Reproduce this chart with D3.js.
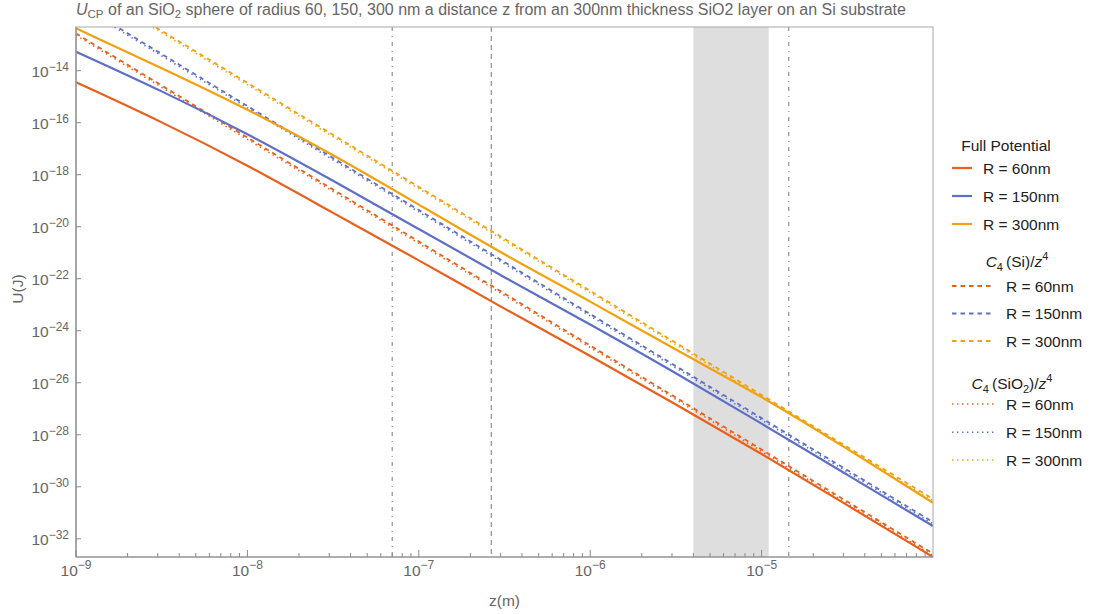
<!DOCTYPE html>
<html><head><meta charset="utf-8">
<script src="https://cdn.jsdelivr.net/npm/d3@7"></script>
<style>body{margin:0;background:#fff}svg text{font-family:"Liberation Sans",Arial,sans-serif}</style>
</head><body><svg id="c" width="1093" height="614"></svg>
<script>
// ---------- data ----------
const zFull = [1e-9, 3.16e-9, 1e-8, 3.16e-8, 1e-7, 3.16e-7, 1e-6, 3.16e-6, 1e-5, 3.16e-5, 1e-4];
const fullR60  = [3.58e-15, 1.09e-16, 2.36e-18, 3.37e-20, 5.24e-22, 6.84e-24, 1.12e-25, 1.45e-27, 1.89e-29, 1.98e-31, 1.98e-33];
const fullR150 = [5.38e-14, 1.69e-15, 3.85e-17, 5.98e-19, 8.17e-21, 1.10e-22, 1.81e-24, 2.36e-26, 2.72e-28, 2.90e-30, 3.08e-32];
const fullR300 = [4.28e-13, 1.27e-14, 3.37e-16, 6.04e-18, 7.14e-20, 8.22e-22, 1.37e-23, 1.81e-25, 3.08e-27, 2.92e-29, 2.43e-31];
const zAsym = [1e-9, 1e-8, 1e-7, 1e-6, 1e-5, 1e-4];
const c4SiR60  = [2.69e-13, 2.69e-17, 2.69e-21, 2.69e-25, 2.69e-29, 2.69e-33];
const c4SiR150 = [4.37e-12, 4.37e-16, 4.37e-20, 4.37e-24, 4.37e-28, 4.37e-32];
const c4SiR300 = [3.40e-11, 3.40e-15, 3.40e-19, 3.40e-23, 3.40e-27, 3.40e-31];
const c4SiO2R60  = [2.29e-13, 2.29e-17, 2.29e-21, 2.29e-25, 2.29e-29, 2.29e-33];
const c4SiO2R150 = [3.72e-12, 3.72e-16, 3.72e-20, 3.72e-24, 3.72e-28, 3.72e-32];
const c4SiO2R300 = [2.90e-11, 2.90e-15, 2.90e-19, 2.90e-23, 2.90e-27, 2.90e-31];
const xTickExps = [-9, -8, -7, -6, -5];
const yTickExps = [-32, -30, -28, -26, -24, -22, -20, -18, -16, -14];
const dashDotLines = [7.0e-8, 1.44e-5];
const dashedLines = [2.65e-7];
const shadedBand = [4.0e-6, 1.1e-5];
const radiusLabels = ["R = 60nm", "R = 150nm", "R = 300nm"];
const colors = ["#E8601C", "#5E6FC6", "#F2A10F"];

// ---------- layout ----------
const L = 76, R = 933, T = 27, B = 557;
const svg = d3.select("#c");
const x = d3.scaleLog().domain([1e-9, 1e-4]).range([L, R]);
const y = d3.scaleLog().domain([Math.pow(10, -32.70), Math.pow(10, -12.32)]).range([B, T]);
const axisCol = "#8a8a8a", labCol = "#666";

svg.append("defs").append("clipPath").attr("id", "clip")
  .append("rect").attr("x", L).attr("y", T).attr("width", R - L).attr("height", B - T);
const plot = svg.append("g").attr("clip-path", "url(#clip)");

// band
plot.append("rect").attr("x", x(shadedBand[0])).attr("y", T)
  .attr("width", x(shadedBand[1]) - x(shadedBand[0])).attr("height", B - T).attr("fill", "#dedede");

// vertical markers
dashDotLines.forEach(v => plot.append("line").attr("x1", x(v)).attr("x2", x(v)).attr("y1", T).attr("y2", B)
  .attr("stroke", "#999").attr("stroke-width", 1.3).attr("stroke-dasharray", "4,5,1,5"));
dashedLines.forEach(v => plot.append("line").attr("x1", x(v)).attr("x2", x(v)).attr("y1", T).attr("y2", B)
  .attr("stroke", "#999").attr("stroke-width", 1.3).attr("stroke-dasharray", "5,4"));

const lineStraight = d3.line().x(d => x(d[0])).y(d => y(d[1]));
const lineSmooth = d3.line().x(d => x(d[0])).y(d => y(d[1])).curve(d3.curveBasis);
function draw(gen, zs, vs, col, w, dash) {
  plot.append("path").datum(zs.map((z, i) => [z, vs[i]])).attr("d", gen)
    .attr("fill", "none").attr("stroke", col).attr("stroke-width", w)
    .attr("stroke-dasharray", dash || null);
}
const dotted = [c4SiO2R60, c4SiO2R150, c4SiO2R300];
const dashed = [c4SiR60, c4SiR150, c4SiR300];
const full = [fullR60, fullR150, fullR300];
dotted.forEach((s, i) => draw(lineStraight, zAsym, s, colors[i], 1.6, "1.4,3.6"));
dashed.forEach((s, i) => draw(lineStraight, zAsym, s, colors[i], 1.8, "4.5,4"));
full.forEach((s, i) => draw(lineSmooth, zFull, s, colors[i], 2.2));

// frame
svg.append("rect").attr("x", L).attr("y", T).attr("width", R - L).attr("height", B - T)
  .attr("fill", "none").attr("stroke", "#a8a8a8").attr("stroke-width", 1);
svg.append("line").attr("x1", L).attr("x2", R).attr("y1", B).attr("y2", B).attr("stroke", axisCol).attr("stroke-width", 1.2);
svg.append("line").attr("x1", L).attr("x2", L).attr("y1", T).attr("y2", B).attr("stroke", axisCol).attr("stroke-width", 1.2);

// x ticks
for (let e = -9; e <= -5; e++) {
  for (let m = 1; m <= 9; m++) {
    const v = m * Math.pow(10, e);
    const len = m === 1 ? 7 : 4;
    svg.append("line").attr("x1", x(v)).attr("x2", x(v)).attr("y1", B).attr("y2", B - len)
      .attr("stroke", axisCol).attr("stroke-width", 1);
  }
}
xTickExps.forEach(e => {
  const t = svg.append("text").attr("x", x(Math.pow(10, e))).attr("y", 575.5)
    .attr("text-anchor", "middle").attr("fill", labCol).attr("font-size", 15.5);
  t.append("tspan").text("10");
  t.append("tspan").attr("dy", -6.5).attr("font-size", 12).text("\u2212" + (-e));
});
// y ticks
yTickExps.forEach(e => {
  const v = Math.pow(10, e);
  svg.append("line").attr("x1", L).attr("x2", L + 5).attr("y1", y(v)).attr("y2", y(v))
    .attr("stroke", axisCol).attr("stroke-width", 1);
  const t = svg.append("text").attr("x", 69).attr("y", y(v) + 6.5)
    .attr("text-anchor", "end").attr("fill", labCol).attr("font-size", 15.5);
  t.append("tspan").text("10");
  t.append("tspan").attr("dy", -6.5).attr("font-size", 12).text("\u2212" + (-e));
});

// axis labels
svg.append("text").attr("x", (L + R) / 2).attr("y", 606).attr("text-anchor", "middle")
  .attr("fill", labCol).attr("font-size", 15.5).text("z(m)");
svg.append("text").attr("transform", "translate(23,289) rotate(-90)").attr("text-anchor", "middle")
  .attr("fill", labCol).attr("font-size", 15.5).text("U(J)");

// title
const tt = svg.append("text").attr("x", 76).attr("y", 15).attr("fill", labCol).attr("font-size", 16);
tt.append("tspan").attr("font-style", "italic").text("U");
tt.append("tspan").attr("dy", 3).attr("font-size", 11.5).text("CP");
tt.append("tspan").attr("dy", -3).text(" of an SiO");
tt.append("tspan").attr("dy", 3).attr("font-size", 11.5).text("2");
tt.append("tspan").attr("dy", -3).text(" sphere of radius 60, 150, 300 nm a distance z from an 300nm thickness SiO2 layer on an Si substrate");

// legend
const lg = svg.append("g");
const legCol = "#222";
function header(cx, yb, parts) {
  const t = lg.append("text").attr("x", cx).attr("y", yb).attr("text-anchor", "middle")
    .attr("fill", legCol).attr("font-size", 15.5);
  parts.forEach(p => {
    const s = t.append("tspan").text(p.t);
    if (p.i) s.attr("font-style", "italic");
    if (p.dy) s.attr("dy", p.dy);
    if (p.fs) s.attr("font-size", p.fs);
  });
}
header(1006, 151, [{t: "Full Potential"}]);
header(1017, 267, [{t: "C", i: 1}, {t: "4", dy: 4, fs: 11}, {t: "\u2009(Si)/", dy: -4}, {t: "z", i: 1}, {t: "4", dy: -7, fs: 11}]);
header(1012, 389, [{t: "C", i: 1}, {t: "4", dy: 4, fs: 11}, {t: "\u2009(SiO", dy: -4}, {t: "2", dy: 4, fs: 11}, {t: ")/", dy: -4}, {t: "z", i: 1}, {t: "4", dy: -7, fs: 11}]);
const groups = [
  {ys: [168, 196, 224], x2: 972, tx: 983, w: 2.2, dash: null},
  {ys: [286, 313.5, 341], x2: 994, tx: 1006, w: 1.8, dash: "4.5,4"},
  {ys: [404, 432.3, 460], x2: 994, tx: 1006, w: 1.6, dash: "1.4,3.6"}
];
groups.forEach(g => g.ys.forEach((yy, i) => {
  lg.append("line").attr("x1", 952).attr("x2", g.x2).attr("y1", yy).attr("y2", yy)
    .attr("stroke", colors[i]).attr("stroke-width", g.w).attr("stroke-dasharray", g.dash);
  lg.append("text").attr("x", g.tx).attr("y", yy + 5.5).attr("fill", legCol).attr("font-size", 15.5).text(radiusLabels[i]);
}));
</script></body></html>
